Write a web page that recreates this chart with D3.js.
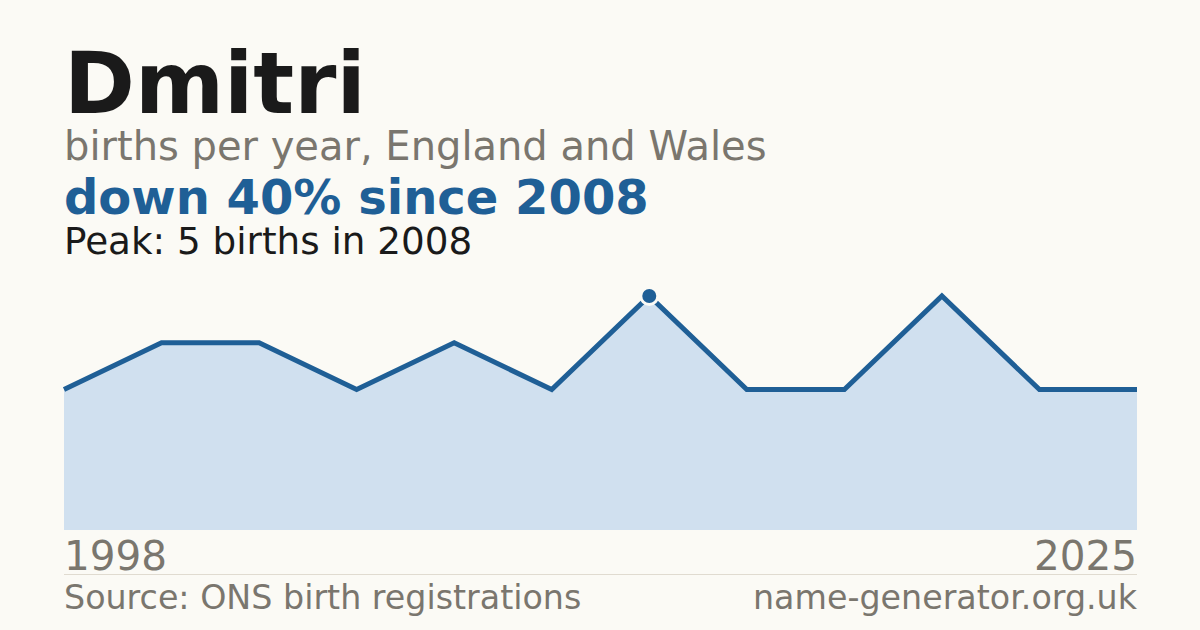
<!DOCTYPE html>
<meta charset="utf-8">
<script src="https://cdn.jsdelivr.net/npm/d3@7"></script>
<style>
body{margin:0;background:#fbfaf5;}
svg{display:block;font-family:"DejaVu Sans",sans-serif;}
</style>
<body>
<div id="chart"></div>
<script>
// births per year (only years on record, evenly spaced)
var years = [1998, 2000, 2002, 2003, 2005, 2006, 2008, 2011, 2014, 2018, 2021, 2025];
var births = [3, 4, 4, 3, 4, 3, 5, 3, 3, 5, 3, 3];
var peakYear = 2008;

var W = 1200, H = 630;
var mLeft = 64, mRight = 1137, base = 530, mTop = 296;
var blue = "#1f5f96", grey = "#7a766e";

var svg = d3.select("#chart").append("svg")
    .attr("width", W)
    .attr("height", H);

svg.append("rect").attr("width", W).attr("height", H).attr("fill", "#fbfaf5");

// titles
svg.append("text").attr("x", mLeft).attr("y", 113)
    .style("font-size", "85.5px").style("font-weight", "bold").attr("fill", "#1a1a1a")
    .text("Dmitri");
svg.append("text").attr("x", mLeft).attr("y", 160)
    .style("font-size", "40px").attr("fill", grey)
    .text("births per year, England and Wales");
svg.append("text").attr("x", mLeft).attr("y", 214)
    .style("font-size", "48px").style("font-weight", "bold").attr("fill", blue)
    .text("down 40% since 2008");
svg.append("text").attr("x", mLeft).attr("y", 254)
    .style("font-size", "37.3px").attr("fill", "#1a1a1a")
    .text("Peak: 5 births in 2008");

var x = d3.scalePoint().domain(d3.range(years.length)).range([mLeft, mRight]);
var y = d3.scaleLinear().domain([0, d3.max(births)]).range([base, mTop]);

var area = d3.area()
    .x(function(d, i){ return x(i); })
    .y0(base)
    .y1(function(d){ return y(d); });
var line = d3.line()
    .x(function(d, i){ return x(i); })
    .y(function(d){ return y(d); });

svg.append("path").datum(births).attr("d", area).attr("fill", "#d0e0ef");
svg.append("path").datum(births).attr("d", line)
    .attr("fill", "none").attr("stroke", blue).attr("stroke-width", 5)
    .attr("stroke-linejoin", "miter");

var pk = years.indexOf(peakYear);
svg.append("circle").attr("cx", x(pk)).attr("cy", y(births[pk])).attr("r", 8.5)
    .attr("fill", blue).attr("stroke", "#fbfaf5").attr("stroke-width", 3);

// year ends
svg.append("text").attr("x", mLeft).attr("y", 570)
    .style("font-size", "40.5px").attr("fill", grey).text(years[0]);
svg.append("text").attr("x", mRight).attr("y", 570).attr("text-anchor", "end")
    .style("font-size", "40.5px").attr("fill", grey).text(years[years.length - 1]);

svg.append("line").attr("x1", mLeft).attr("x2", mRight).attr("y1", 574.5).attr("y2", 574.5)
    .attr("stroke", "#e0dbd0").attr("stroke-width", 1);

svg.append("text").attr("x", mLeft).attr("y", 609)
    .style("font-size", "33.3px").attr("fill", grey).text("Source: ONS birth registrations");
svg.append("text").attr("x", mRight).attr("y", 609).attr("text-anchor", "end")
    .style("font-size", "33.3px").attr("fill", grey).text("name-generator.org.uk");
</script>
</body>
